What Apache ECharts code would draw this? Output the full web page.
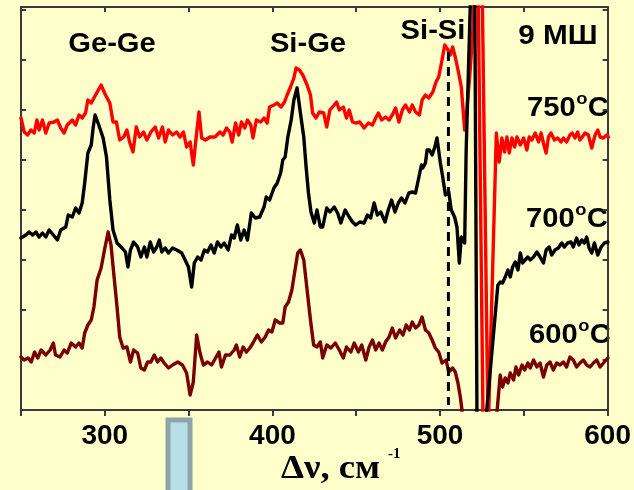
<!DOCTYPE html>
<html><head><meta charset="utf-8">
<script src="https://cdn.jsdelivr.net/npm/echarts@6/dist/echarts.min.js"></script>
<style>html,body{margin:0;padding:0;background:#FFFFCC}#c{width:634px;height:490px}</style>
</head><body><div id="c"></div>
<script>
// Raman shift (cm-1), intensity (a.u.)
const spectrum750 = [
[250.0,292],[251.9,278],[253.9,275],[255.9,280],[257.9,277],[259.5,290],[260.8,280],[262.8,290],[264.8,277],[266.8,287],[269.7,288],[271.7,290],[273.7,282],[275.7,277],[277.6,285],[280.6,290],[282.6,285],[284.6,295],[286.5,292],[288.5,297],[289.9,310],[291.9,307],[294.5,315],[297.8,325],[300.4,315],[303.0,307],[304.9,288],[306.9,288],[308.9,270],[311.3,273],[313.2,280],[314.8,268],[316.8,258],[318.8,283],[320.8,273],[323.1,278],[325.1,270],[327.5,278],[330.1,283],[332.1,272],[334.4,283],[336.0,268],[338.0,280],[340.5,275],[342.9,278],[344.9,273],[346.9,278],[348.8,263],[350.9,268],[352.8,245],[354.2,268],[356.2,298],[357.8,272],[360.1,270],[362.7,273],[365.7,273],[368.7,278],[370.6,275],[372.6,282],[374.6,278],[376.0,268],[378.0,287],[379.9,275],[381.5,288],[383.5,282],[385.1,290],[387.1,285],[388.4,272],[390.4,290],[393.0,288],[395.0,292],[396.9,287],[398.3,303],[400.9,305],[402.9,307],[405.2,303],[407.2,308],[408.8,315],[410.8,323],[412.8,332],[414.1,342],[416.1,340],[418.1,335],[420.7,325],[422.7,315],[424.0,297],[426.0,292],[428.0,298],[430.6,297],[432.4,283],[434.3,300],[436.9,305],[438.3,308],[439.9,300],[442.3,303],[444.2,292],[445.8,300],[447.8,288],[449.7,287],[452.1,288],[454.7,282],[457.3,287],[459.7,285],[461.6,292],[463.2,297],[465.2,290],[467.5,293],[469.6,290],[471.5,295],[473.5,302],[475.5,288],[477.5,300],[479.4,305],[481.8,298],[483.4,305],[485.4,298],[487.7,295],[489.3,310],[491.3,315],[493.3,312],[495.7,318],[497.6,328],[499.2,333],[501.2,350],[502.8,365],[504.8,360],[506.1,355],[507.5,363],[509.1,353],[511.1,337],[512.7,323],[514.7,280],[516.0,300],[518.0,340],[519.6,380],[520.8,440],[521.8,700],[522.4,470],[526.0,-60],[525.7,'-'],[525.0,441],[528.7,-25],[533.6,277],
[535.3,248],[536.9,272],[538.5,258],[539.9,273],[541.3,257],[542.9,272],[544.5,263],[545.9,273],[547.9,265],[549.9,272],[551.8,260],[553.2,273],[554.8,270],[556.8,277],[558.8,268],[560.3,277],[561.7,267],[563.3,257],[564.7,273],[566.2,277],[568.2,270],[570.2,272],[572.2,268],[573.6,272],[575.5,268],[577.5,275],[578.9,277],[580.5,272],[582.1,278],[583.5,270],[584.9,273],[586.5,277],[588.5,275],[590.5,262],[592.5,275],[594.1,280],[595.5,273],[597.5,272],[599.5,275],[600.5,273]
];
const spectrum700 = [
[250.0,172],[252.9,175],[254.9,178],[256.9,175],[258.9,178],[260.8,173],[262.8,177],[264.8,173],[266.8,180],[269.3,175],[271.7,170],[273.7,180],[276.7,183],[278.2,195],[280.6,193],[282.6,202],[284.6,197],[286.5,207],[288.0,227],[289.9,257],[291.9,265],[293.1,283],[294.2,295],[296.4,285],[299.0,272],[301.0,253],[303.0,210],[304.9,180],[307.3,167],[310.3,162],[312.3,158],[313.8,143],[315.3,160],[317.2,168],[319.6,163],[321.5,153],[323.6,163],[325.1,153],[327.1,168],[329.1,158],[331.0,163],[332.5,170],[334.0,158],[336.0,162],[338.0,157],[340.4,162],[342.9,160],[345.9,157],[347.9,150],[349.9,143],[351.8,123],[353.4,147],[355.4,153],[357.4,150],[359.4,160],[361.3,158],[363.3,165],[365.3,157],[367.2,168],[369.3,163],[371.2,167],[373.6,160],[375.6,175],[377.2,172],[379.1,185],[381.1,170],[383.1,180],[385.1,170],[387.4,197],[389.8,192],[392.4,193],[395.0,203],[396.3,213],[398.3,210],[400.9,222],[402.9,227],[404.9,237],[406.2,250],[407.6,253],[409.2,273],[411.2,290],[412.8,310],[414.7,322],[416.7,297],[418.7,273],[420.1,243],[421.5,217],[423.0,198],[425.0,187],[426.6,200],[428.6,183],[430.0,183],[432.4,202],[434.3,198],[436.9,203],[438.9,197],[440.8,187],[443.4,200],[445.8,193],[447.8,188],[449.7,185],[452.1,188],[454.7,187],[456.7,195],[458.6,192],[460.7,207],[462.6,195],[464.6,198],[467.2,188],[469.1,200],[471.1,210],[473.1,198],[475.1,207],[477.0,212],[479.1,207],[481.4,217],[483.4,218],[485.4,217],[487.4,233],[488.9,245],[489.7,242],[491.3,247],[492.3,260],[493.7,260],[495.3,255],[496.9,263],[498.2,272],[500.2,247],[501.6,233],[503.2,215],[505.2,218],[506.7,200],[508.7,193],[510.1,183],[511.5,147],[512.7,173],[514.7,167],[515.6,260],[518.0,402],[519.0,560],[520.0,700],[520.6,460],[522.2,-60],[527.6,-5],[534.5,125],
[535.9,128],[537.3,127],[538.9,133],[540.5,140],[541.9,133],[543.3,143],[544.9,148],[546.5,140],[547.9,157],[549.3,147],[550.8,150],[552.4,153],[553.8,150],[555.8,153],[557.8,158],[559.7,153],[561.7,147],[563.3,160],[565.1,163],[566.6,155],[568.6,160],[570.6,162],[572.6,167],[574.2,163],[576.1,167],[578.1,168],[579.5,163],[581.5,172],[582.9,165],[584.5,170],[586.1,167],[587.5,173],[588.9,162],[590.5,157],[592.1,167],[594.1,155],[596.1,163],[598.1,167],[600.1,168]
];
const spectrum600 = [
[250.0,53],[251.9,50],[254.2,52],[256.1,48],[258.1,58],[260.0,52],[262.0,60],[264.8,55],[267.4,60],[269.3,67],[270.6,55],[273.3,53],[275.7,60],[277.6,57],[280.0,67],[282.6,63],[284.6,67],[286.5,62],[288.0,77],[289.9,85],[291.9,90],[293.5,103],[295.4,130],[297.8,142],[299.8,160],[302.0,178],[303.7,165],[305.3,137],[307.3,103],[308.9,73],[310.9,62],[313.2,63],[315.3,48],[317.2,60],[319.6,57],[321.5,42],[323.6,40],[325.5,48],[327.5,48],[329.5,55],[331.5,48],[333.4,52],[335.4,47],[338.0,42],[340.4,45],[343.5,48],[346.3,45],[348.8,37],[350.9,15],[352.8,28],[354.8,75],[356.8,57],[358.8,45],[361.3,48],[363.7,45],[366.1,52],[368.1,58],[369.6,43],[372.0,55],[374.6,55],[377.2,60],[378.5,65],[380.5,53],[382.5,63],[384.5,58],[386.5,62],[388.4,67],[391.0,75],[393.4,68],[395.7,73],[397.7,80],[399.7,78],[401.7,90],[404.3,87],[406.2,87],[407.6,103],[409.6,108],[411.6,120],[413.2,137],[415.1,157],[416.7,160],[418.7,150],[420.7,120],[422.7,90],[424.6,65],[426.6,63],[428.6,68],[430.0,52],[432.4,65],[434.9,62],[437.5,67],[439.9,60],[442.3,52],[444.2,63],[446.8,58],[448.8,67],[451.3,58],[453.3,65],[455.7,50],[457.7,63],[459.7,70],[461.6,60],[463.6,67],[465.6,60],[467.5,68],[469.6,73],[471.5,82],[473.5,72],[475.9,80],[477.9,75],[479.8,85],[481.8,80],[483.4,88],[485.4,82],[487.4,85],[489.3,93],[491.3,80],[493.3,77],[495.3,70],[497.2,62],[499.2,58],[501.2,47],[503.6,50],[505.2,38],[507.5,42],[509.1,38],[510.7,27],[512.1,13],[513.1,0],[514.0,-40],[532.0,-40],[535.9,35],
[537.3,23],[538.9,32],[540.5,27],[541.9,37],[543.9,30],[545.3,43],[546.9,35],[548.9,45],[550.5,40],[552.4,47],[553.8,42],[555.8,50],[557.8,43],[559.7,47],[561.7,33],[563.7,45],[565.6,48],[567.6,40],[569.6,47],[571.6,45],[573.6,48],[575.5,43],[577.5,53],[579.5,50],[581.5,43],[583.5,47],[585.5,50],[587.5,45],[589.5,43],[591.5,47],[593.5,50],[595.5,43],[597.5,47],[600.1,52]
];
const siSiMarker = [[505,358],[505,5]];
const xTickLabels = [300, 400, 500, 600];
const bandNames = ['Ge-Ge', 'Si-Ge', 'Si-Si'];
const sampleName = '9 МШ';
const temperatures = ['750', '700', '600'];

const chart = echarts.init(document.getElementById('c'), null, {renderer: 'canvas'});
const SANS = '"Liberation Sans", Arial, sans-serif';
const SERIF = '"Liberation Serif", "Times New Roman", serif';
const axisCol = '#3a3a3a';
const LW = 3.4;
function lineSeries(name, data, color) {
  return {type: 'line', name, data, showSymbol: false, symbol: 'none', clip: true, connectNulls: false,
    lineStyle: {color, width: LW, join: 'round', cap: 'round'}, itemStyle: {color}, emphasis: {disabled: true}, silent: true};
}
const mctx = document.createElement('canvas').getContext('2d');
function textWidth(font, s) { mctx.font = font; return mctx.measureText(s).width; }

const SX = 1.08;
const labelFont = 'bold 27px ' + SANS;
const degFont = 'bold 17px ' + SANS;
const bandPos = [[112, 45], [308, 45], [433, 32]];
const tempPos = [[527, 109], [526, 220], [529, 336]];
const graphics = [];
bandNames.forEach((t, i) => graphics.push({type: 'text', x: bandPos[i][0], y: bandPos[i][1], scaleX: SX,
  style: {text: t, font: labelFont, fill: '#000', textAlign: 'center', textVerticalAlign: 'middle'}}));
graphics.push({type: 'text', x: 558, y: 37, scaleX: 1.1,
  style: {text: sampleName, font: labelFont, fill: '#000', textAlign: 'center', textVerticalAlign: 'middle'}});
temperatures.forEach((t, i) => {
  const x0 = tempPos[i][0], yc = tempPos[i][1];
  const wN = textWidth(labelFont, t) * SX;
  const wO = textWidth(degFont, 'o') * SX;
  graphics.push({type: 'text', x: x0, y: yc, scaleX: SX,
    style: {text: t, font: labelFont, fill: '#000', textAlign: 'left', textVerticalAlign: 'middle'}});
  graphics.push({type: 'text', x: x0 + wN + 0.5, y: yc - 9.5, scaleX: SX,
    style: {text: 'o', font: degFont, fill: '#000', textAlign: 'left', textVerticalAlign: 'middle'}});
  graphics.push({type: 'text', x: x0 + wN + wO + 1, y: yc, scaleX: SX,
    style: {text: 'C', font: labelFont, fill: '#000', textAlign: 'left', textVerticalAlign: 'middle'}});
});
graphics.push({type: 'text', x: 281, y: 469, scaleX: 1.08,
  style: {text: 'Δν, см', font: 'bold 34px ' + SERIF, fill: '#000', textAlign: 'left', textVerticalAlign: 'middle'}});
graphics.push({type: 'text', x: 388, y: 454,
  style: {text: '-1', font: 'bold 15px ' + SERIF, fill: '#000', textAlign: 'left', textVerticalAlign: 'middle'}});
graphics.push({type: 'rect', shape: {x: 168, y: 420, width: 22, height: 80},
  style: {fill: '#B9DFE6', stroke: '#8DA4A8', lineWidth: 5}});

const option = {
  animation: false,
  backgroundColor: '#FFFFCC',
  grid: {left: 21, right: 22, top: 7, bottom: 80, containLabel: false},
  xAxis: [
    {type: 'value', min: 250, max: 600, interval: 50, position: 'bottom',
     axisLine: {show: true, onZero: false, lineStyle: {color: axisCol, width: 2}},
     axisTick: {show: true, inside: false, length: 6, lineStyle: {color: axisCol, width: 2}},
     axisLabel: {show: true, margin: 12, color: '#000', fontSize: 28, fontWeight: 'bold', fontFamily: SANS,
       formatter: v => xTickLabels.includes(v) ? String(v) : ''},
     splitLine: {show: false}},
    {type: 'value', min: 250, max: 600, interval: 50, position: 'top',
     axisLine: {show: true, onZero: false, lineStyle: {color: axisCol, width: 2}},
     axisTick: {show: true, inside: true, length: 5, lineStyle: {color: axisCol, width: 2}},
     axisLabel: {show: false}, splitLine: {show: false}}
  ],
  yAxis: [
    {type: 'value', min: 0, max: 403, interval: 50, position: 'left',
     axisLine: {show: true, onZero: false, lineStyle: {color: axisCol, width: 2}},
     axisTick: {show: true, inside: true, length: 5, lineStyle: {color: axisCol, width: 2}},
     axisLabel: {show: false}, splitLine: {show: false}},
    {type: 'value', min: 0, max: 403, interval: 50, position: 'right',
     axisLine: {show: true, onZero: false, lineStyle: {color: axisCol, width: 2}},
     axisTick: {show: true, inside: true, length: 5, lineStyle: {color: axisCol, width: 2}},
     axisLabel: {show: false}, splitLine: {show: false}}
  ],
  series: [
    lineSeries('600°C', spectrum600, '#7A0000'),
    lineSeries('750°C', spectrum750, '#FF0000'),
    lineSeries('700°C', spectrum700, '#000000'),
    {type: 'line', name: 'Si-Si', data: siSiMarker, showSymbol: false, symbol: 'none', silent: true,
     lineStyle: {color: '#000', width: 3, type: [9, 6]}, emphasis: {disabled: true}, z: 5}
  ],
  graphic: graphics
};
chart.setOption(option);
</script>
</body></html>
